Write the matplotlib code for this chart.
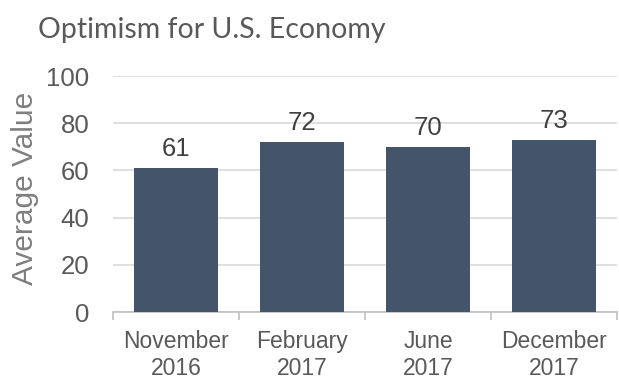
import matplotlib
matplotlib.use("Agg")
import matplotlib.pyplot as plt
from matplotlib.ticker import FixedLocator

categories = ["November\n2016", "February\n2017", "June\n2017", "December\n2017"]
values = [61, 72, 70, 73]
yticks = [0, 20, 40, 60, 80, 100]

W, H = 619, 382
fig = plt.figure(figsize=(W/100, H/100), dpi=100)
ax = fig.add_axes([113/W, (H-312)/H, (617-113)/W, (312-76)/H])

x = list(range(len(categories)))
bars = ax.bar(x, values, width=0.66, color="#44546A", zorder=3)

ax.set_xlim(-0.5, len(categories)-0.5)
ax.set_ylim(0, 100)
ax.set_yticks(yticks)
ax.yaxis.grid(True, color="#d9d9d9", linewidth=1.2, zorder=0)
ax.set_axisbelow(True)

for s in ["top", "right", "left"]:
    ax.spines[s].set_visible(False)
ax.spines["bottom"].set_color("#bfbfbf")
ax.spines["bottom"].set_linewidth(1.2)

ax.set_xticks(x)
ax.set_xticklabels(categories, fontfamily="Liberation Sans", fontsize=16.5,
                   color="#595959", linespacing=1.2)
ax.xaxis.set_minor_locator(FixedLocator([i-0.5 for i in range(len(categories)+1)]))
ax.tick_params(axis="x", which="major", length=0, pad=13)
ax.tick_params(axis="x", which="minor", length=6, color="#bfbfbf", width=1.2, direction="out")
ax.tick_params(axis="y", length=0, pad=17)
for lab in ax.get_yticklabels():
    lab.set_fontfamily("Liberation Sans")
    lab.set_fontsize(18.5)
    lab.set_color("#595959")

for xi, v in zip(x, values):
    ax.annotate(str(v), (xi, v), xytext=(0, 5), textcoords="offset points",
                ha="center", va="bottom", fontfamily="Liberation Sans",
                fontsize=18.5, color="#404040")

ax.set_ylabel("Average Value", fontfamily="Liberation Sans", fontsize=21.5,
              color="#7f7f7f")
ax.yaxis.set_label_coords(-0.147, 0.523)

fig.text(38/W, 1-30/H, "Optimism for U.S. Economy", fontfamily="Lato",
         fontsize=20.5, color="#595959", va="center", ha="left")

fig.savefig("out.png", dpi=100)
